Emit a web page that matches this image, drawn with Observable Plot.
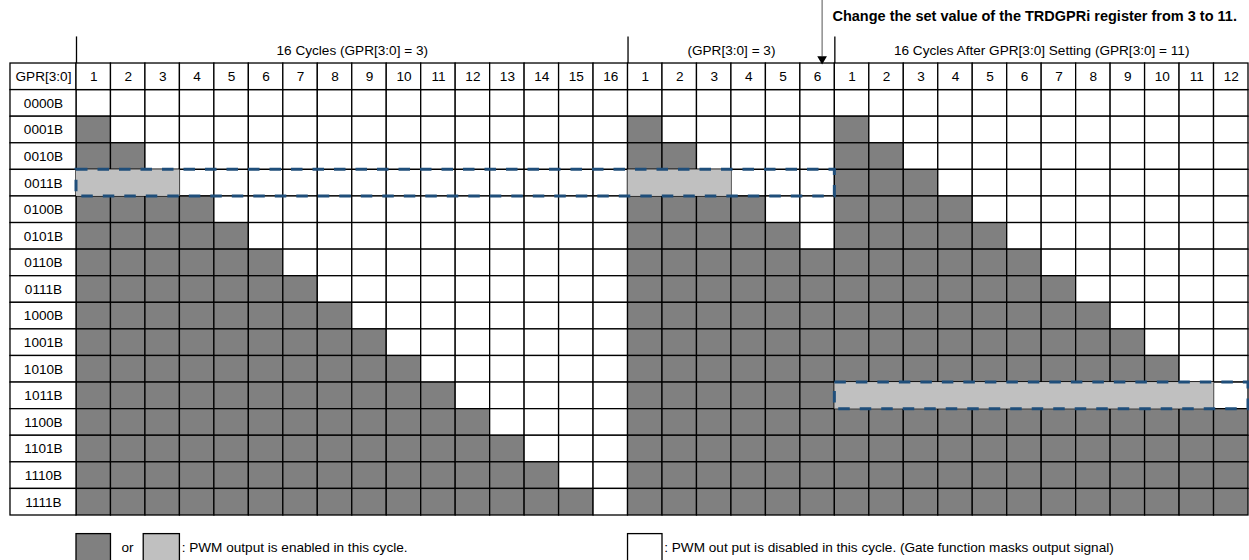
<!DOCTYPE html>
<html>
<head>
<meta charset="utf-8">
<script src="https://cdn.jsdelivr.net/npm/d3@7"></script>
<script src="https://cdn.jsdelivr.net/npm/@observablehq/plot@0.6"></script>
<style>
  html, body { margin: 0; padding: 0; background: #fff; }
  #chart svg { display: block; }
</style>
</head>
<body>
<div id="chart"></div>
<script>
// ---------- data ----------
const gprLabels = ["0000B","0001B","0010B","0011B","0100B","0101B","0110B","0111B",
                   "1000B","1001B","1010B","1011B","1100B","1101B","1110B","1111B"];
const headerLabel = "GPR[3:0]";
const groupLabels = ["16 Cycles (GPR[3:0] = 3)", "(GPR[3:0] = 3)",
                     "16 Cycles After GPR[3:0] Setting (GPR[3:0] = 11)"];
const groupCycles = [16, 6, 12];
const groupSettings = [3, 3, 11];
const changeNote = "Change the set value of the TRDGPRi register from 3 to 11.";
const legendOr = "or";
const legendEnabled = ": PWM output is enabled in this cycle.";
const legendDisabled = ": PWM out put is disabled in this cycle. (Gate function masks output signal)";

// ---------- styling / layout ----------
const DARK = "#808080", LIGHT = "#c0c0c0", WHITE = "#ffffff", BOX = "#1f4e7a";
const FONT = "'Liberation Sans', Arial, Helvetica, sans-serif";
const FS = 13.6;
const labelW = 1.915;           // width of the label column, in cycle-column units
const nCols = d3.sum(groupCycles);
const nRows = gprLabels.length;
const rowValue = gprLabels.map(s => parseInt(s.slice(0, 4), 2));
const groupStart = groupCycles.map((c, i) => d3.sum(groupCycles.slice(0, i)));

// ---------- derived tables ----------
const cells = [];
groupCycles.forEach((n, g) => {
  for (let c = 1; c <= n; c++) {
    const k = groupStart[g] + c - 1;
    rowValue.forEach((v, r) => {
      cells.push({x1: k, x2: k + 1, y1: r, y2: r + 1, on: c <= v});
    });
  }
});
const headerCells = [{x1: -labelW, x2: 0, y1: -1, y2: 0, text: headerLabel}];
groupCycles.forEach((n, g) => {
  for (let c = 1; c <= n; c++) {
    const k = groupStart[g] + c - 1;
    headerCells.push({x1: k, x2: k + 1, y1: -1, y2: 0, text: String(c)});
  }
});
const rowCells = gprLabels.map((t, r) => ({x1: -labelW, x2: 0, y1: r, y2: r + 1, text: t}));
// highlighted (currently set) runs, light gray
const lightRuns = groupCycles.map((n, g) => {
  const s = groupSettings[g], r = rowValue.indexOf(s);
  return {x1: groupStart[g], x2: groupStart[g] + Math.min(s, n), y1: r, y2: r + 1};
});
// dashed boxes: consecutive groups with equal setting are merged
const boxes = [];
groupCycles.forEach((n, g) => {
  const s = groupSettings[g], r = rowValue.indexOf(s);
  const last = boxes[boxes.length - 1];
  if (last && last.setting === s) last.x2 = groupStart[g] + n;
  else boxes.push({setting: s, x1: groupStart[g], x2: groupStart[g] + n, y1: r, y2: r + 1});
});
const groupHeads = groupLabels.map((t, g) => ({x: groupStart[g] + groupCycles[g] / 2, x0: groupStart[g], text: t}));
const changeX = groupStart[2];             // the boundary where the setting changes
const arrow = [{x: changeX - 0.37, y1: -3.5, y2: -1.25, ty: -1.17}];
const note = [{x: changeX - 0.07, y: -2.79, text: changeNote}];
const legendBoxes = [
  {x1: 0, x2: 1, fill: DARK},
  {x1: 1.95, x2: 3, fill: LIGHT},
  {x1: 16, x2: 17, fill: WHITE}
];
const legendMid = [{x: 1.48, text: legendOr}];
const legendStart = [{x: 3.05, text: legendEnabled}, {x: 17.05, text: legendDisabled}];

const gridStroke = {stroke: "#000", strokeWidth: 1.3};

const chart = Plot.plot({
  width: 1249,
  height: 560,
  marginLeft: 76,
  marginRight: 1,
  marginTop: 89.6,
  marginBottom: 45,
  x: {type: "linear", domain: [0, nCols], axis: null},
  y: {type: "linear", domain: [0, nRows], reverse: true, axis: null},
  style: {fontFamily: FONT, fontSize: FS + "px", color: "#000", background: "#fff"},
  marks: [
    // grid cells
    Plot.rect(cells, {x1: "x1", x2: "x2", y1: "y1", y2: "y2", fill: d => d.on ? DARK : WHITE, ...gridStroke}),
    Plot.rect(headerCells, {x1: "x1", x2: "x2", y1: "y1", y2: "y2", fill: WHITE, ...gridStroke}),
    Plot.rect(rowCells, {x1: "x1", x2: "x2", y1: "y1", y2: "y2", fill: WHITE, ...gridStroke}),
    Plot.text(headerCells, {x: d => (d.x1 + d.x2) / 2, y: -0.5, text: "text", fontSize: FS}),
    Plot.text(rowCells, {x: d => (d.x1 + d.x2) / 2, y: d => d.y1 + 0.5, text: "text", fontSize: FS}),
    // highlighted runs
    Plot.rect(lightRuns, {x1: "x1", x2: "x2", y1: "y1", y2: "y2", fill: LIGHT}),
    Plot.rect(boxes, {x1: "x1", x2: "x2", y1: "y1", y2: "y2", fill: "none", stroke: BOX, strokeWidth: 3, strokeDasharray: "11.5,10"}),
    // group headings
    Plot.ruleX(groupHeads, {x: "x0", y1: -2, y2: -1, stroke: "#000", strokeWidth: 1.3}),
    Plot.text(groupHeads, {x: "x", y: -1.5, text: "text", fontSize: FS}),
    // change annotation
    Plot.ruleX(arrow, {x: "x", y1: "y1", y2: "y2", stroke: "#555", strokeWidth: 1}),
    Plot.dot(arrow, {x: "x", y: "ty", symbol: "triangle", r: 3.6, rotate: 180, fill: "#000", stroke: "none"}),
    Plot.text(note, {x: "x", y: "y", text: "text", textAnchor: "start", fontWeight: "bold", fontSize: 14.5}),
    // legend
    Plot.rect(legendBoxes, {x1: "x1", x2: "x2", y1: 16.7, y2: 17.9, fill: "fill", stroke: "#000", strokeWidth: 1.3}),
    Plot.text(legendMid, {x: "x", y: 17.2, text: "text", fontSize: FS}),
    Plot.text(legendStart, {x: "x", y: 17.2, text: "text", textAnchor: "start", fontSize: FS})
  ]
});
document.getElementById("chart").appendChild(chart);
</script>
</body>
</html>
